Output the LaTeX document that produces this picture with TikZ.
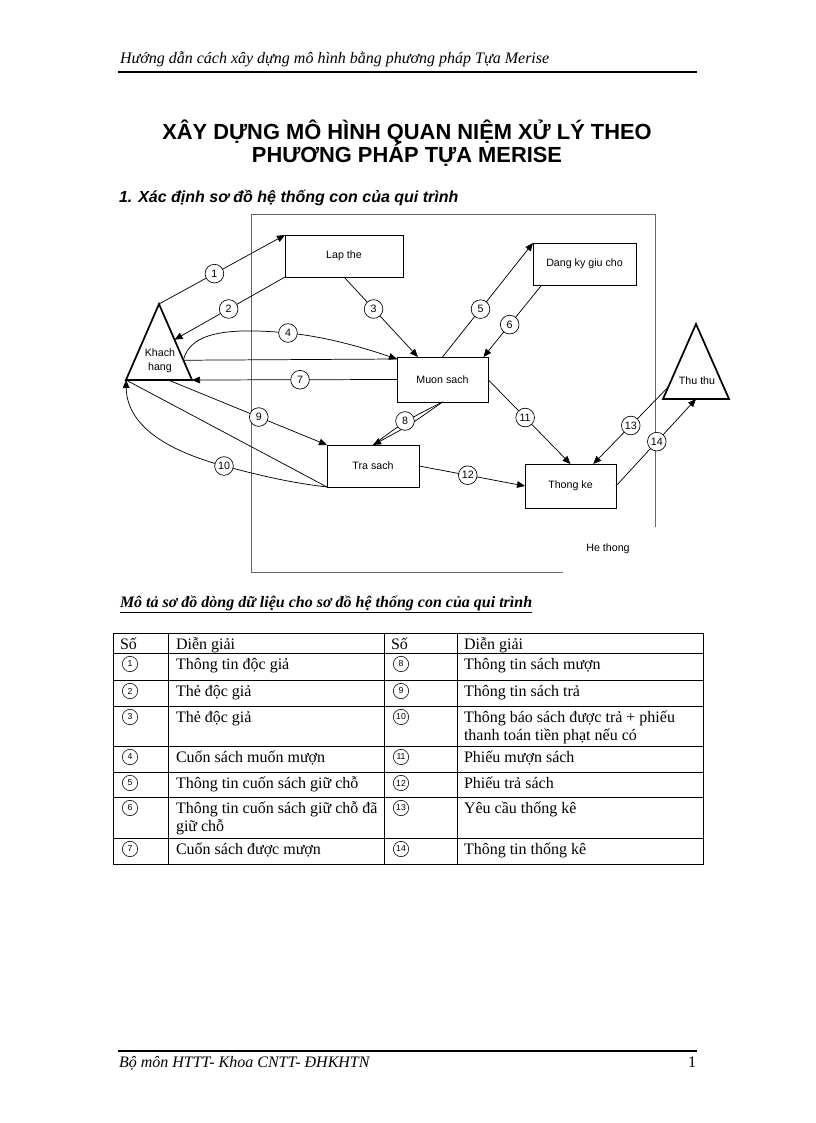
\documentclass[tikz,border=0pt]{standalone}
\usepackage{fontspec}
\setmainfont{Liberation Serif}
\newfontfamily\arialf{Liberation Sans}
\usetikzlibrary{arrows.meta,calc}
\begin{document}
\begin{tikzpicture}[x=0.75pt,y=-0.75pt,
  every node/.style={inner sep=0pt,outer sep=0pt},
  dfont/.style={font=\arialf\fontsize{8}{10.5}\selectfont},
  proc/.style={dfont,draw,line width=0.6pt,fill=white},
  lbl/.style={dfont,draw,circle,fill=white,minimum size=14pt,line width=0.5pt},
  conn/.style={line width=0.55pt},
  arr/.style={conn,-{Triangle[length=6pt,width=5pt]}},
  actor/.style={line width=1.3pt,line join=miter},
  bnd/.style={line width=0.6pt,black!60},
  tbl/.style={line width=0.7pt},
  ttxt/.style={anchor=base west,font=\fontsize{12}{14}\selectfont},
  tnum/.style={draw,circle,minimum size=11.5pt,line width=0.45pt,font=\arialf\fontsize{6.5}{7}\selectfont},
]
\fill[white] (0,0) rectangle (816,1123);
\useasboundingbox (0,0) rectangle (816,1123);

% header / footer
\node[anchor=base west,font=\itshape\fontsize{12}{14}\selectfont] (hdr) at (120,64) {Hướng dẫn cách xây dựng mô hình bằng phương pháp Tựa Merise};
\draw[line width=1.2pt] (118,72) -- (697,72);
\draw[line width=0.8pt] (118,1051) -- (697,1051);
\node[anchor=base west,font=\itshape\fontsize{12}{14}\selectfont] (ftr) at (119,1067) {Bộ môn HTTT- Khoa CNTT- ĐHKHTN};
\node[anchor=base east,font=\fontsize{12}{14}\selectfont] (pg) at (696,1067) {1};

% titles
\node[anchor=base,font=\arialf\bfseries\fontsize{16.4}{19}\selectfont] (t1) at (407,140) {XÂY DỰNG MÔ HÌNH QUAN NIỆM XỬ LÝ THEO};
\node[anchor=base,font=\arialf\bfseries\fontsize{16.4}{19}\selectfont] (t2) at (407,163) {PHƯƠNG PHÁP TỰA MERISE};
\node[anchor=base west,font=\arialf\bfseries\itshape\fontsize{12}{14}\selectfont] (sec) at (119,203) {1. Xác định sơ đồ hệ thống con của qui trình};

% system boundary
\draw[bnd] (563,572) -- (251,572) -- (251,214) -- (655,214) -- (655,527);
\node[dfont] (ht) at (608,549) {He thong};

% processes
\node[proc,minimum width=88.5pt,minimum height=31.5pt] (lt) at (344,256) {Lap the};
\node[proc,minimum width=77.25pt,minimum height=31.5pt] (dk) at (584.5,264) {Dang ky giu cho};
\node[proc,minimum width=68.25pt,minimum height=33.75pt] (ms) at (442.5,379.5) {Muon sach};
\node[proc,minimum width=69pt,minimum height=31.5pt] (ts) at (373,466) {Tra sach};
\node[proc,minimum width=68.25pt,minimum height=33pt] (tk) at (570.5,486) {Thong ke};

% actors
\coordinate (khA) at (159,304);
\coordinate (khL) at (126,380);
\coordinate (khR) at (192,380);
\draw[actor] (khA) -- (khL) -- (khR) -- cycle;
\node[dfont,align=center] (kh) at (160,361) {Khach\\hang};
\coordinate (ttA) at (696,324);
\coordinate (ttL) at (663,399);
\coordinate (ttR) at (729,399);
\draw[actor] (ttA) -- (ttL) -- (ttR) -- cycle;
\node[dfont] (tt) at (697,381) {Thu thu};

% flows
\draw[arr] (khA) -- node[lbl,pos=0.44] (n1) {1} (lt.north west);
\draw[arr] (lt.south west) -- node[lbl,pos=0.51] (n2) {2} ($(khA)!0.47!(khR)$);
\draw[arr] (lt.south) -- node[lbl,pos=0.4] (n3) {3} ($(ms.north west)!0.23!(ms.north east)$);
\coordinate (k4) at ($(khA)!0.74!(khR)$);
\coordinate (m4) at ($(ms.north west)+(0,2)$);
\draw[conn] (k4) -- (m4);
\draw[arr] (k4) .. controls (190,330) and (235,328) .. (288,333) .. controls (330,337) and (370,350) .. (m4);
\node[lbl] (n4) at (288,333) {4};
\draw[arr] (ms.north) -- node[lbl,pos=0.42] (n5) {5} (dk.north west);
\draw[arr] ($(dk.south west)!0.085!(dk.south east)$) -- node[lbl,pos=0.55] (n6) {6} ($(ms.north west)!0.95!(ms.north east)$);
\draw[arr] (ms.west) -- node[lbl,pos=0.473] (n7) {7} (khR);
\draw[conn] (ms.south) .. controls (405.9,420.5) .. (ts.north);
\draw[arr] (ms.south) .. controls (409.1,425.5) .. (ts.north);
\node[lbl] (n8) at (405,421) {8};
\draw[arr] ($(khL)!0.64!(khR)$) -- node[lbl,pos=0.57] (n9) {9} (ts.north west);
\draw[conn] (ts.south west) -- (khL);
\draw[arr] (ts.south west) .. controls (285,482) and (255,474) .. (224,466) .. controls (165,450) and (127,425) .. (khL);
\node[lbl] (n10) at (224,466) {10};
\draw[arr] (ms.east) -- node[lbl,pos=0.45] (n11) {11} (tk.north);
\draw[arr] (ts.east) -- node[lbl,pos=0.46] (n12) {12} (tk.west);
\draw[arr] ($(ttA)!0.84!(ttL)$) -- node[lbl,pos=0.5] (n13) {13} ($(tk.north west)!0.75!(tk.north east)$);
\draw[arr] (tk.east) -- node[lbl,pos=0.51] (n14) {14} ($(ttL)!0.5!(ttR)$);

% table
\node[anchor=base west,font=\bfseries\itshape\fontsize{12}{14}\selectfont] (ttl) at (120,607) {\underline{Mô tả sơ đồ dòng dữ liệu cho sơ đồ hệ thống con của qui trình}};
\draw[tbl] (113,633) rectangle (703,864);
\foreach \x in {168,384,457} \draw[tbl] (\x,633) -- (\x,864);
\foreach \y in {653,680,706,746,772,797,838} \draw[tbl] (113,\y) -- (703,\y);
\node[ttxt] (h1) at (120,649) {Số};
\node[ttxt] (h2) at (176,649) {Diễn giải};
\node[ttxt] (h3) at (391,649) {Số};
\node[ttxt] (h4) at (464,649) {Diễn giải};
\foreach \a/\b/\y/\la/\lb in {1/8/653/Thông tin độc giả/Thông tin sách mượn,
  2/9/680/Thẻ độc giả/Thông tin sách trả,
  3/10/706/Thẻ độc giả/Thông báo sách được trả + phiếu,
  4/11/746/Cuốn sách muốn mượn/Phiếu mượn sách,
  5/12/772/Thông tin cuốn sách giữ chỗ/Phiếu trả sách,
  6/13/797/Thông tin cuốn sách giữ chỗ đã/Yêu cầu thống kê,
  7/14/838/Cuốn sách được mượn/Thông tin thống kê}{
  \node[tnum] (c\a) at (130,\y+11) {\a};
  \node[tnum] (c\b) at (401,\y+11) {\b};
  \node[ttxt] (d\a) at (176,\y+16) {\la};
  \node[ttxt] (d\b) at (464,\y+16) {\lb};
}
\node[ttxt] (d10b) at (464,740) {thanh toán tiền phạt nếu có};
\node[ttxt] (d6b) at (176,831) {giữ chỗ};
\end{tikzpicture}
\end{document}
